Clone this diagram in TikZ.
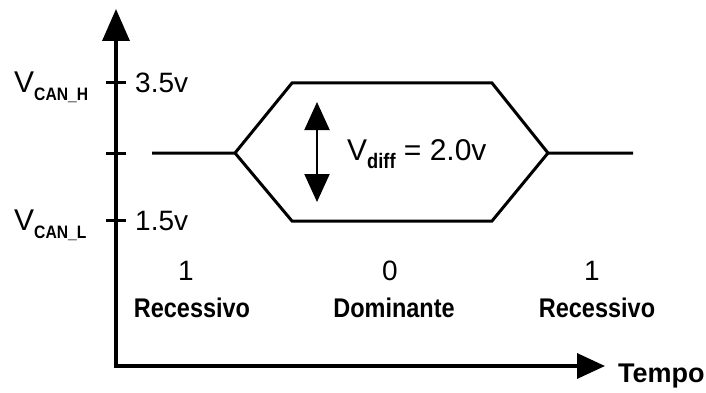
\documentclass[tikz,border=0pt]{standalone}
\usepackage{fontspec}
\setmainfont{Liberation Sans}
\newfontfamily\narrowfont[FakeStretch=0.87]{Liberation Sans}
\usetikzlibrary{arrows.meta}

\begin{document}
\begin{tikzpicture}[x=1pt,y=-1pt,line join=miter,
  axis/.style={line width=3.5pt},
  signal/.style={line width=3pt},
  value label/.style={font=\fontsize{28}{30}\selectfont,inner sep=0pt},
  state label/.style={font=\narrowfont\bfseries\fontsize{27}{29}\selectfont,inner sep=0pt}]

  \useasboundingbox (0,0) rectangle (706,393);

  % axes
  \coordinate (origin) at (116,366);
  \coordinate (ytip) at (116,9);
  \coordinate (xtip) at (605,366);
  \draw[axis,{Triangle[length=32pt,width=27pt]}-{Triangle[length=28pt,width=25pt]}]
    (ytip) -- (origin) -- (xtip);

  % ticks
  \foreach \lvl/\y in {high/83,mid/153,low/220} {
    \coordinate (tick \lvl) at (116,\y);
    \draw[signal] ([xshift=-10pt]tick \lvl) -- ([xshift=10pt]tick \lvl);
  }

  % signal
  \coordinate (s0) at (152,153);
  \coordinate (s1) at (235,153);
  \coordinate (s2) at (292,83);
  \coordinate (s3) at (492,83);
  \coordinate (s4) at (548,153);
  \coordinate (s5) at (633,153);
  \coordinate (s6) at (492,221);
  \coordinate (s7) at (292,221);
  \draw[signal] (s0) -- (s1) -- (s2) -- (s3) -- (s4) -- (s5);
  \draw[signal] (s1) -- (s7) -- (s6) -- (s4);

  \coordinate (vd top) at (317,102);
  \coordinate (vd bot) at (317,202);
  \draw[line width=2pt,{Triangle[length=28pt,width=25pt]}-{Triangle[length=28pt,width=25pt]}]
    (vd top) -- (vd bot);

  % labels
  \node[value label,anchor=base west] (vcanh) at (14,93)
    {{\fontsize{30}{32}\selectfont V}\raisebox{-8pt}{\narrowfont\bfseries\fontsize{18}{19}\selectfont CAN\_H}};
  \node[value label,anchor=base west] (vcanl) at (14,230)
    {{\fontsize{30}{32}\selectfont V}\raisebox{-8pt}{\narrowfont\bfseries\fontsize{18}{19}\selectfont CAN\_L}};
  \node[value label,anchor=base west] (vhigh) at (135,93) {3.5v};
  \node[value label,anchor=base west] (vlow) at (135,230) {1.5v};
  \node[value label,anchor=base west,font=\fontsize{30}{32}\selectfont] (vdiff) at (347,160)
    {V\raisebox{-8pt}{\narrowfont\bfseries\fontsize{21}{22}\selectfont diff} = 2.0v};

  \node[value label,anchor=base] (bit1) at (186,280) {1};
  \node[value label,anchor=base] (bit2) at (390,280) {0};
  \node[value label,anchor=base] (bit3) at (592,280) {1};
  \node[state label,anchor=base] (state1) at (192,317) {Recessivo};
  \node[state label,anchor=base] (state2) at (394,317) {Dominante};
  \node[state label,anchor=base] (state3) at (597,317) {Recessivo};
  \node[state label,anchor=base west,font=\bfseries\fontsize{27}{29}\selectfont] (tempo) at (618,382) {Tempo};

\end{tikzpicture}
\end{document}
